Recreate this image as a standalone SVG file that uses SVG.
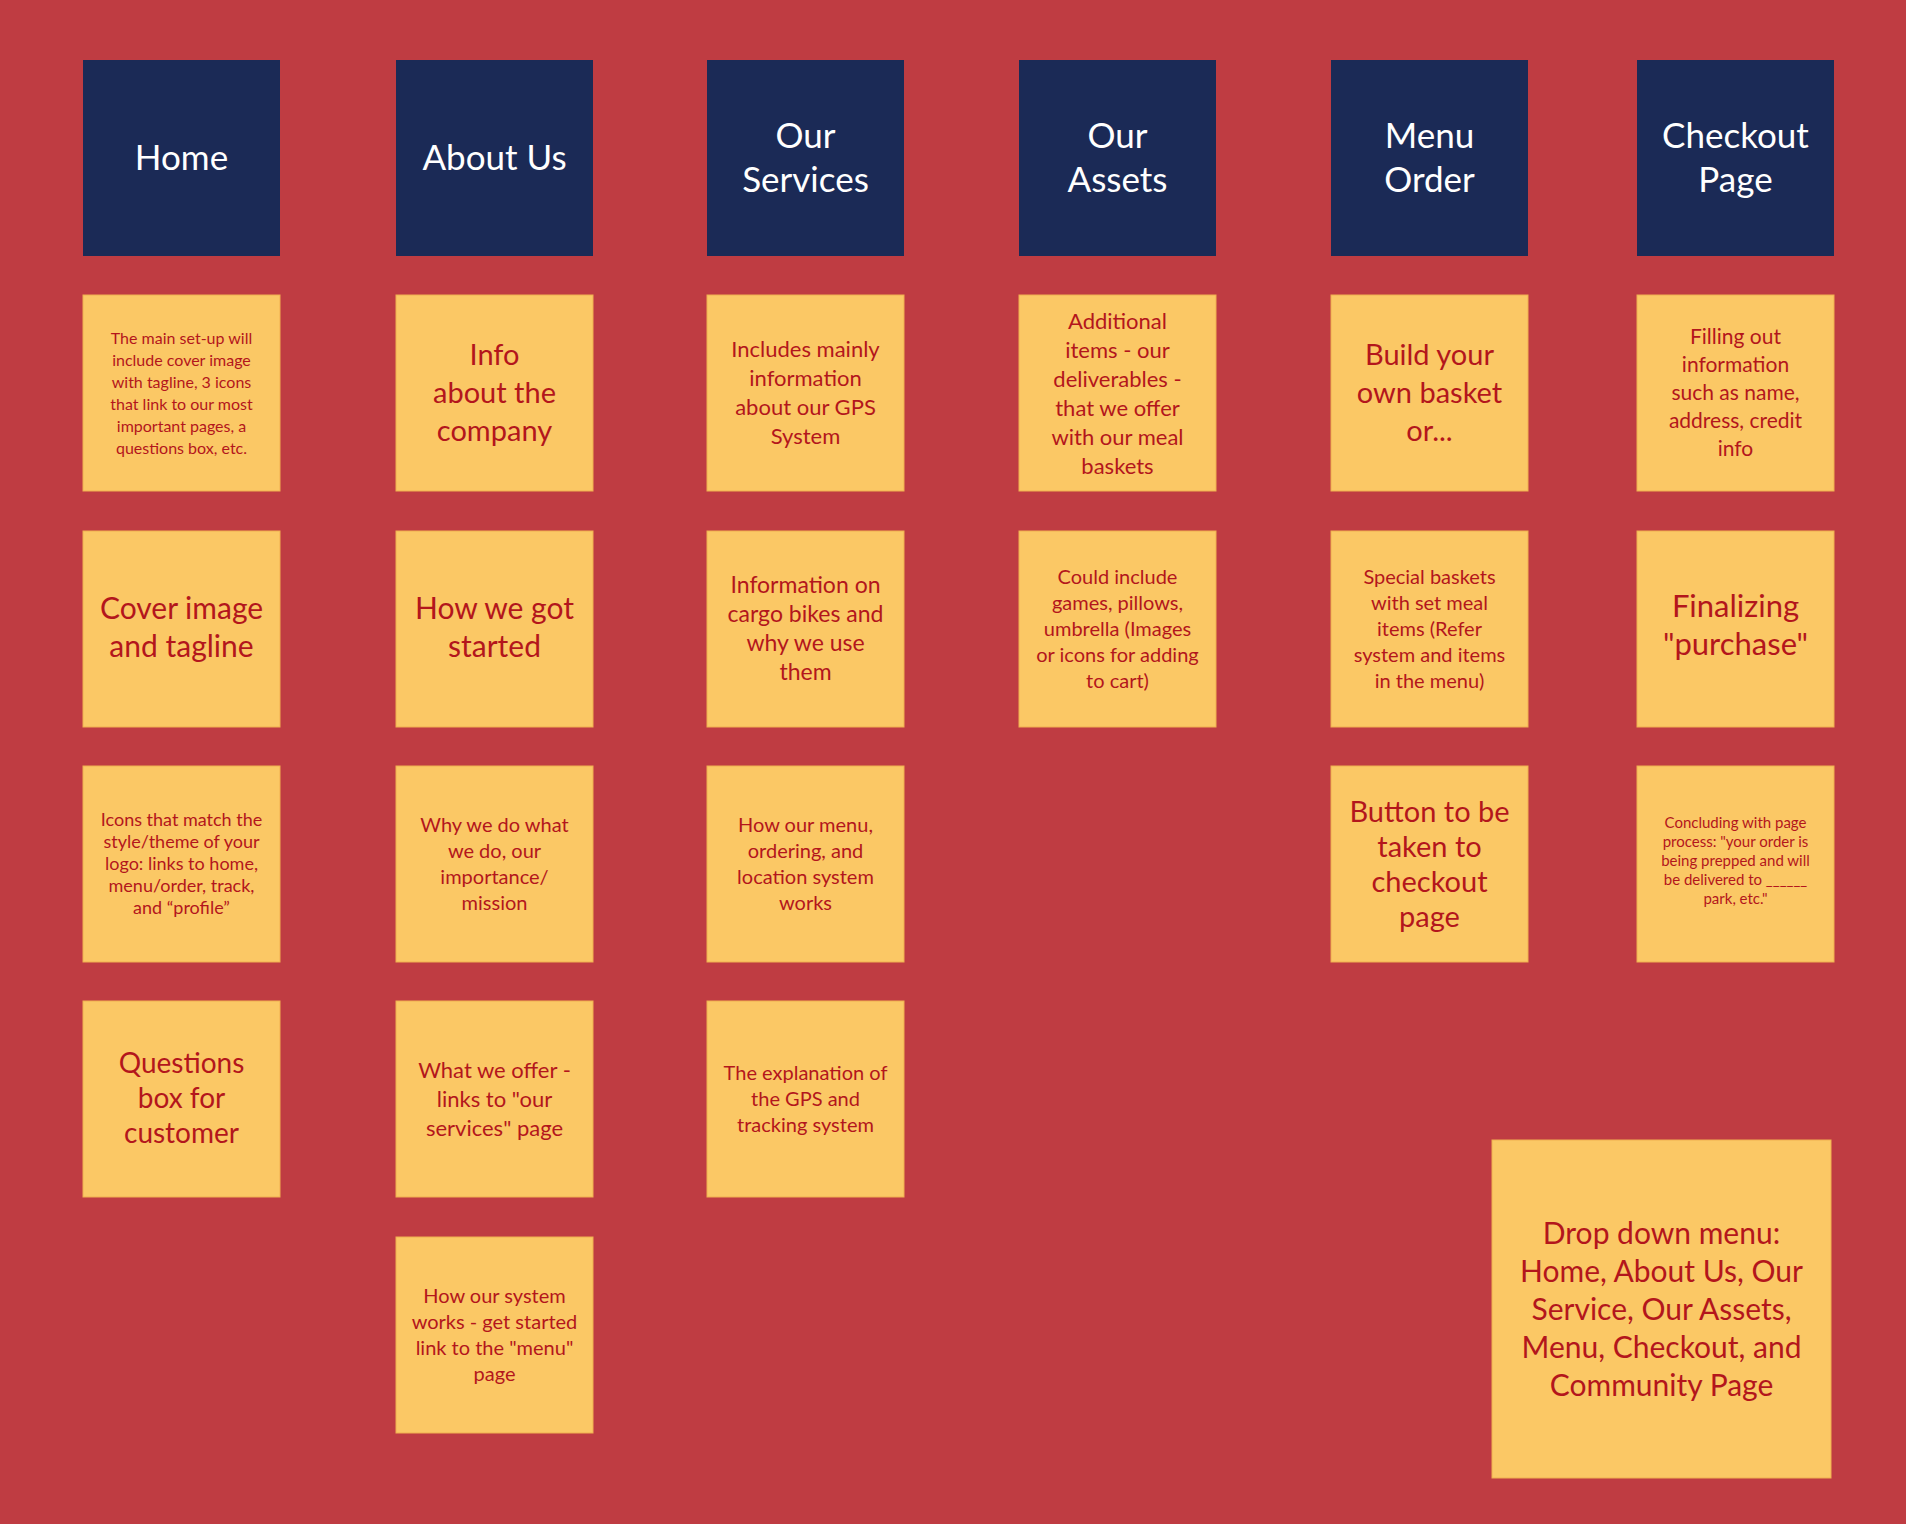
<svg xmlns="http://www.w3.org/2000/svg" width="1920" height="1524" viewBox="0 0 1920 1524">
<style>
.bg{fill:#bf3c42}
.h{fill:#1b2a56}
.n{fill:#fbc865;stroke:#f0b050;stroke-width:1}
.ht{fill:#ffffff;font-family:Lato,"DejaVu Sans",sans-serif;font-size:35px;text-anchor:middle}
.t{fill:#b3161c;font-family:Lato,"Open Sans",sans-serif;text-anchor:middle}
</style>
<rect class="bg" x="0" y="0" width="1920" height="1524"/>
<rect x="1906" y="0" width="14" height="1524" fill="#ffffff"/>
<g id="h-home"><rect class="h" x="83" y="60" width="197" height="196"/><text class="ht" x="181.5" y="170">Home</text></g>
<g id="h-about"><rect class="h" x="396" y="60" width="197" height="196"/><text class="ht" x="494.5" y="170">About Us</text></g>
<g id="h-services"><rect class="h" x="707" y="60" width="197" height="196"/><text class="ht" x="805.5" y="148">Our<tspan x="805.5" dy="44">Services</tspan></text></g>
<g id="h-assets"><rect class="h" x="1019" y="60" width="197" height="196"/><text class="ht" x="1117.5" y="148">Our<tspan x="1117.5" dy="44">Assets</tspan></text></g>
<g id="h-menu"><rect class="h" x="1331" y="60" width="197" height="196"/><text class="ht" x="1429.5" y="148">Menu<tspan x="1429.5" dy="44">Order</tspan></text></g>
<g id="h-checkout"><rect class="h" x="1637" y="60" width="197" height="196"/><text class="ht" x="1735.5" y="148">Checkout<tspan x="1735.5" dy="44">Page</tspan></text></g>

<g id="n-home-1"><rect class="n" x="83" y="295" width="197" height="196"/><text class="t" font-size="16" x="181.5" y="344">The main set-up will<tspan x="181.5" dy="22">include cover image</tspan><tspan x="181.5" dy="22">with tagline, 3 icons</tspan><tspan x="181.5" dy="22">that link to our most</tspan><tspan x="181.5" dy="22">important pages, a</tspan><tspan x="181.5" dy="22">questions box, etc.</tspan></text></g>
<g id="n-about-1"><rect class="n" x="396" y="295" width="197" height="196"/><text class="t" font-size="29" x="494.5" y="365">Info<tspan x="494.5" dy="38">about the</tspan><tspan x="494.5" dy="38">company</tspan></text></g>
<g id="n-serv-1"><rect class="n" x="707" y="295" width="197" height="196"/><text class="t" font-size="22" x="805.5" y="357">Includes mainly<tspan x="805.5" dy="29">information</tspan><tspan x="805.5" dy="29">about our GPS</tspan><tspan x="805.5" dy="29">System</tspan></text></g>
<g id="n-assets-1"><rect class="n" x="1019" y="295" width="197" height="196"/><text class="t" font-size="22" x="1117.5" y="329">Additional<tspan x="1117.5" dy="29">items - our</tspan><tspan x="1117.5" dy="29">deliverables -</tspan><tspan x="1117.5" dy="29">that we offer</tspan><tspan x="1117.5" dy="29">with our meal</tspan><tspan x="1117.5" dy="29">baskets</tspan></text></g>
<g id="n-menu-1"><rect class="n" x="1331" y="295" width="197" height="196"/><text class="t" font-size="29" x="1429.5" y="365">Build your<tspan x="1429.5" dy="38">own basket</tspan><tspan x="1429.5" dy="38">or...</tspan></text></g>
<g id="n-check-1"><rect class="n" x="1637" y="295" width="197" height="196"/><text class="t" font-size="21" x="1735.5" y="344">Filling out<tspan x="1735.5" dy="28">information</tspan><tspan x="1735.5" dy="28">such as name,</tspan><tspan x="1735.5" dy="28">address, credit</tspan><tspan x="1735.5" dy="28">info</tspan></text></g>

<g id="n-home-2"><rect class="n" x="83" y="531" width="197" height="196"/><text class="t" font-size="30" x="181.5" y="619">Cover image<tspan x="181.5" dy="38">and tagline</tspan></text></g>
<g id="n-about-2"><rect class="n" x="396" y="531" width="197" height="196"/><text class="t" font-size="30" x="494.5" y="619">How we got<tspan x="494.5" dy="38">started</tspan></text></g>
<g id="n-serv-2"><rect class="n" x="707" y="531" width="197" height="196"/><text class="t" font-size="23" x="805.5" y="593">Information on<tspan x="805.5" dy="29">cargo bikes and</tspan><tspan x="805.5" dy="29">why we use</tspan><tspan x="805.5" dy="29">them</tspan></text></g>
<g id="n-assets-2"><rect class="n" x="1019" y="531" width="197" height="196"/><text class="t" font-size="20" x="1117.5" y="584">Could include<tspan x="1117.5" dy="26">games, pillows,</tspan><tspan x="1117.5" dy="26">umbrella (Images</tspan><tspan x="1117.5" dy="26">or icons for adding</tspan><tspan x="1117.5" dy="26">to cart)</tspan></text></g>
<g id="n-menu-2"><rect class="n" x="1331" y="531" width="197" height="196"/><text class="t" font-size="20" x="1429.5" y="584">Special baskets<tspan x="1429.5" dy="26">with set meal</tspan><tspan x="1429.5" dy="26">items (Refer</tspan><tspan x="1429.5" dy="26">system and items</tspan><tspan x="1429.5" dy="26">in the menu)</tspan></text></g>
<g id="n-check-2"><rect class="n" x="1637" y="531" width="197" height="196"/><text class="t" font-size="31" x="1735.5" y="617">Finalizing<tspan x="1735.5" dy="38">"purchase"</tspan></text></g>

<g id="n-home-3"><rect class="n" x="83" y="766" width="197" height="196"/><text class="t" font-size="18" x="181.5" y="826">Icons that match the<tspan x="181.5" dy="22">style/theme of your</tspan><tspan x="181.5" dy="22">logo: links to home,</tspan><tspan x="181.5" dy="22">menu/order, track,</tspan><tspan x="181.5" dy="22">and “profile”</tspan></text></g>
<g id="n-about-3"><rect class="n" x="396" y="766" width="197" height="196"/><text class="t" font-size="20" x="494.5" y="832">Why we do what<tspan x="494.5" dy="26">we do, our</tspan><tspan x="494.5" dy="26">importance/</tspan><tspan x="494.5" dy="26">mission</tspan></text></g>
<g id="n-serv-3"><rect class="n" x="707" y="766" width="197" height="196"/><text class="t" font-size="20" x="805.5" y="832">How our menu,<tspan x="805.5" dy="26">ordering, and</tspan><tspan x="805.5" dy="26">location system</tspan><tspan x="805.5" dy="26">works</tspan></text></g>
<g id="n-menu-3"><rect class="n" x="1331" y="766" width="197" height="196"/><text class="t" font-size="29" x="1429.5" y="822">Button to be<tspan x="1429.5" dy="35">taken to</tspan><tspan x="1429.5" dy="35">checkout</tspan><tspan x="1429.5" dy="35">page</tspan></text></g>
<g id="n-check-3"><rect class="n" x="1637" y="766" width="197" height="196"/><text class="t" font-size="15" x="1735.5" y="828">Concluding with page<tspan x="1735.5" dy="19">process: "your order is</tspan><tspan x="1735.5" dy="19">being prepped and will</tspan><tspan x="1735.5" dy="19">be delivered to ______</tspan><tspan x="1735.5" dy="19">park, etc."</tspan></text></g>

<g id="n-home-4"><rect class="n" x="83" y="1001" width="197" height="196"/><text class="t" font-size="28" x="181.5" y="1073">Questions<tspan x="181.5" dy="35">box for</tspan><tspan x="181.5" dy="35">customer</tspan></text></g>
<g id="n-about-4"><rect class="n" x="396" y="1001" width="197" height="196"/><text class="t" font-size="22" x="494.5" y="1078">What we offer -<tspan x="494.5" dy="29">links to "our</tspan><tspan x="494.5" dy="29">services" page</tspan></text></g>
<g id="n-serv-4"><rect class="n" x="707" y="1001" width="197" height="196"/><text class="t" font-size="20" x="805.5" y="1080">The explanation of<tspan x="805.5" dy="26">the GPS and</tspan><tspan x="805.5" dy="26">tracking system</tspan></text></g>

<g id="n-about-5"><rect class="n" x="396" y="1237" width="197" height="196"/><text class="t" font-size="20" x="494.5" y="1303">How our system<tspan x="494.5" dy="26">works - get started</tspan><tspan x="494.5" dy="26">link to the "menu"</tspan><tspan x="494.5" dy="26">page</tspan></text></g>

<g id="n-dropdown"><rect class="n" x="1492" y="1140" width="339" height="338"/><text class="t" font-size="30" x="1661.5" y="1244">Drop down menu:<tspan x="1661.5" dy="38">Home, About Us, Our</tspan><tspan x="1661.5" dy="38">Service, Our Assets,</tspan><tspan x="1661.5" dy="38">Menu, Checkout, and</tspan><tspan x="1661.5" dy="38">Community Page</tspan></text></g>
<g id="connectors"></g>
</svg>
